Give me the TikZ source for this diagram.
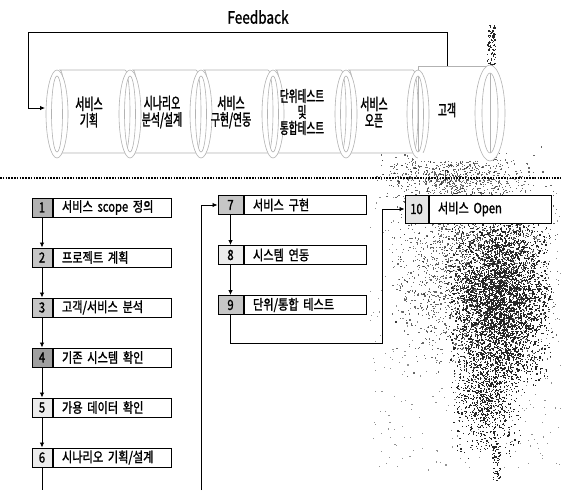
\documentclass[tikz,border=0pt]{standalone}
\usepackage{fontspec}
\setmainfont{Noto Sans CJK KR}[FakeStretch=0.8, FakeBold=1.4]
\newfontfamily\cylfont{Noto Sans CJK KR}[FakeStretch=0.62, FakeBold=1.6]
\usetikzlibrary{calc, positioning, arrows.meta}

\tikzset{
  flow/.style={-{Latex[length=5pt,width=4.5pt]}, line width=0.8pt},
  body/.style={draw=gray!60, line width=0.6pt, fill=white},
  ring/.style={draw=gray!60, line width=0.6pt, fill=white, even odd rule},
  cyltext/.style={font=\cylfont\fontsize{16}{16.5}\selectfont, align=center,
    minimum width=60pt, minimum height=84pt, inner sep=0pt},
  numbox/.style={draw, line width=1pt, minimum height=19pt, minimum width=20pt,
    inner sep=0pt, font=\fontsize{14}{15}\selectfont},
  stepbox/.style={draw, line width=1pt, fill=white, minimum height=19pt,
    text width=100pt, inner xsep=9pt, inner ysep=0pt, align=left,
    font=\fontsize{14}{15}\selectfont},
  speck/.style={fill=black!85}
}

\begin{document}
\begin{tikzpicture}[x=1pt, y=-1pt]
  \useasboundingbox (0,0) rectangle (561,490);

  % scanner speckle on the right
  \pgfmathsetseed{7}
  \foreach \i in {1,...,3800}{
    \pgfmathsetmacro\px{499+27*(rand+rand)}
    \pgfmathsetmacro\py{300+48*(rand+rand)}
    \fill[speck] (\px,\py) rectangle ++(1.3,1.3);
  }
  \foreach \i in {1,...,2400}{
    \pgfmathsetmacro\px{475+44*(rand+rand)}
    \pgfmathsetmacro\py{262+60*(rand+rand)}
    \fill[speck, opacity=0.7] (\px,\py) rectangle ++(1.2,1.2);
  }
  \foreach \i in {1,...,900}{
    \pgfmathsetmacro\px{486+18*(rand+rand)}
    \pgfmathsetmacro\py{400+30*(rand+rand)}
    \fill[speck] (\px,\py) rectangle ++(1.2,1.2);
  }
  \foreach \i in {1,...,600}{
    \pgfmathsetmacro\px{450+40*(rand+rand)}
    \pgfmathsetmacro\py{175+14*(rand+rand)}
    \fill[speck, opacity=0.7] (\px,\py) rectangle ++(1.2,1.2);
  }
  \foreach \i in {1,...,400}{
    \pgfmathsetmacro\px{465+95*rand}
    \pgfmathsetmacro\py{320+150*rand}
    \fill[speck, opacity=0.5] (\px,\py) rectangle ++(1.1,1.1);
  }
  \foreach \i in {1,...,90}{
    \pgfmathsetmacro\px{491+4*rand}
    \pgfmathsetmacro\py{45+20*rand}
    \fill[speck] (\px,\py) rectangle ++(1.3,1.3);
  }
  \foreach \i in {1,...,70}{
    \pgfmathsetmacro\px{496+4*rand}
    \pgfmathsetmacro\py{460+20*rand}
    \fill[speck] (\px,\py) rectangle ++(1.3,1.3);
  }

  % Process cylinders
  \foreach \l/\r in {60/125, 133/196, 204/268, 276/341, 349/413}{
    \draw[body] (\l,70) -- (\r,70) arc(-90:90:5 and 41.5) -- (\l,153) arc(90:-90:5 and 41.5) -- cycle;
  }
  \draw[body] (418,66) -- (490,66) -- (490,160) -- (418,160) -- cycle;
  \foreach \x in {57,130,201,273,346,418}{
    \draw[ring] (\x,114) ellipse (11 and 44) (\x,114) ellipse (5.5 and 38);
  }
  \fill[white] (418,65) rectangle (490,66.6);
  \draw[gray!60, line width=0.6pt] (418,66) -- (490,66) (418,153) -- (490,153);
  \fill[white] (418,153.4) rectangle (490,161);
  \draw[ring] (490,113) ellipse (15 and 48) (490,113) ellipse (8 and 40);

  \node[cyltext] (plan) at (89,112) {서비스\\기획};
  \node[cyltext] (scen) at (162,112) {시나리오\\분석/설계};
  \node[cyltext] (impl) at (231,112) {서비스\\구현/연동};
  \node[cyltext, font=\cylfont\fontsize{15.5}{16}\selectfont] (test) at (302,112) {단위테스트\\및\\통합테스트};
  \node[cyltext] (open) at (374,112) {서비스\\오픈};
  \node[cyltext, minimum height=88pt] (cust) at (447,110) {고객};

  % Feedback loop
  \node[font=\fontsize{17}{18}\selectfont] (fb) at (258,17) {Feedback};
  \coordinate (fbTL) at (28,32);
  \coordinate (fbIn) at (45,108);
  \draw[flow] (cust.north) |- (fbTL) |- (fbIn);

  % Separator
  \draw[line width=1.6pt, dash pattern=on 1.5pt off 1.3pt] (0,178) -- (561,178);

  % Steps 1-6
  \node[numbox, fill=gray!60] (n1) at (42,207.5) {1};
  \node[numbox, fill=gray!45, below=30pt of n1] (n2) {2};
  \node[numbox, fill=gray!45, below=30pt of n2] (n3) {3};
  \node[numbox, fill=gray!75, below=30pt of n3] (n4) {4};
  \node[numbox, fill=gray!15, below=30pt of n4] (n5) {5};
  \node[numbox, fill=gray!15, below=30pt of n5] (n6) {6};
  \node[stepbox, right=0pt of n1] (s1) {서비스 scope 정의};
  \node[stepbox, right=0pt of n2] (s2) {프로젝트 계획};
  \node[stepbox, right=0pt of n3] (s3) {고객/서비스 분석};
  \node[stepbox, right=0pt of n4] (s4) {기존 시스템 확인};
  \node[stepbox, right=0pt of n5] (s5) {가용 데이터 확인};
  \node[stepbox, right=0pt of n6] (s6) {시나리오 기획/설계};

  % Steps 7-9
  \node[numbox, fill=gray!45, minimum width=25pt] (n7) at (230.5,205) {7};
  \node[numbox, fill=gray!15, minimum width=25pt, below=30pt of n7] (n8) {8};
  \node[numbox, fill=gray!45, minimum width=25pt, below=30pt of n8] (n9) {9};
  \node[stepbox, text width=104pt, right=0pt of n7] (s7) {서비스 구현};
  \node[stepbox, text width=104pt, right=0pt of n8] (s8) {시스템 연동};
  \node[stepbox, text width=104pt, right=0pt of n9] (s9) {단위/통합 테스트};

  % Step 10
  \node[numbox, fill=gray!20, minimum width=23pt, minimum height=28pt] (n10) at (416.5,209) {10};
  \node[stepbox, text width=104pt, minimum height=28pt, right=0pt of n10] (s10) {서비스 Open};

  % Flow between steps
  \foreach \a/\b in {n1/n2, n2/n3, n3/n4, n4/n5, n5/n6, n7/n8, n8/n9}{
    \draw[flow] (\a) -- (\b);
  }
  \coordinate (tailA) at (42,490);
  \coordinate (tailB) at (201,490);
  \draw[line width=0.8pt] (n6) -- (tailA);
  \draw[flow] (tailB) |- (n7);
  \coordinate (loopB) at (382,343);
  \draw[flow] (n9) |- (loopB) |- (n10);
\end{tikzpicture}
\end{document}
